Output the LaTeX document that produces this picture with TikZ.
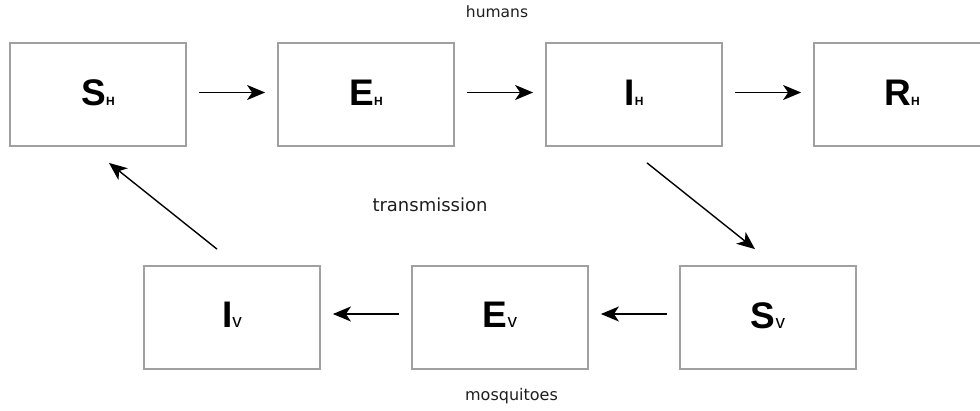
\documentclass[tikz,border=0pt]{standalone}
\usepackage{fontspec}
\setmainfont{Liberation Sans}
\newfontfamily\lblfont{DejaVu Sans}
\usetikzlibrary{arrows.meta}
\definecolor{boxgray}{RGB}{160,160,160}
\definecolor{lbltext}{RGB}{30,30,30}
\newcommand\hlbl[2]{\raisebox{3.5pt}{\fontsize{37}{37}\selectfont\bfseries #1\fontsize{12}{12}\selectfont #2}}
\newcommand\vlbl[2]{\raisebox{4.5pt}{\fontsize{37}{37}\selectfont\bfseries #1\fontsize{19}{19}\selectfont\mdseries #2}}
\begin{document}
\begin{tikzpicture}[x=1pt,y=-1pt,
  stage/.style={draw=boxgray, line width=1.8pt, minimum width=176pt, minimum height=103pt, inner sep=0pt, fill=white},
  flow/.style={-{Stealth[length=18pt,width=15pt,inset=5pt]}, line width=1.4pt, shorten <=12pt, shorten >=12pt},
  diag/.style={-{Stealth[length=18pt,width=15pt,inset=5pt]}, line width=1.4pt},
  lbl/.style={font=\lblfont, anchor=base, inner sep=0pt, text=lbltext}
]
\useasboundingbox (0,0) rectangle (980,410);
% human compartments
\node[stage] (sh) at (98,94.5) {\hlbl{S}{H}};
\node[stage] (eh) at (366,94.5) {\hlbl{E}{H}};
\node[stage] (ih) at (634,94.5) {\hlbl{I}{H}};
\node[stage] (rh) at (902,94.5) {\hlbl{R}{H}};
% mosquito compartments
\node[stage] (iv) at (232,317.5) {\vlbl{I}{v}};
\node[stage] (ev) at (500,317.5) {\vlbl{E}{v}};
\node[stage] (sv) at (768,317.5) {\vlbl{S}{v}};
% labels
\node[lbl, font=\lblfont\fontsize{15.5}{15.5}\selectfont] (humans) at (497,17.3) {humans};
\node[lbl, font=\lblfont\fontsize{18}{18}\selectfont] (trans) at (430,211) {transmission};
\node[lbl, font=\lblfont\fontsize{16}{16}\selectfont] (mosq) at (511.5,400) {mosquitoes};
% flows
\draw[flow] ([yshift=2pt]sh.east) -- ([yshift=2pt]eh.west);
\draw[flow] ([yshift=2pt]eh.east) -- ([yshift=2pt]ih.west);
\draw[flow] ([yshift=2pt]ih.east) -- ([yshift=2pt]rh.west);
\draw[flow] ([yshift=3.5pt]sv.west) -- ([yshift=3.5pt]ev.east);
\draw[flow] ([yshift=3.5pt]ev.west) -- ([yshift=3.5pt]iv.east);
\draw[diag] ([xshift=13pt,yshift=-16pt]ih.south) -- ([xshift=-13pt,yshift=16pt]sv.north);
\draw[diag] ([xshift=-15pt,yshift=16pt]iv.north) -- ([xshift=11pt,yshift=-16pt]sh.south);
\end{tikzpicture}
\end{document}
